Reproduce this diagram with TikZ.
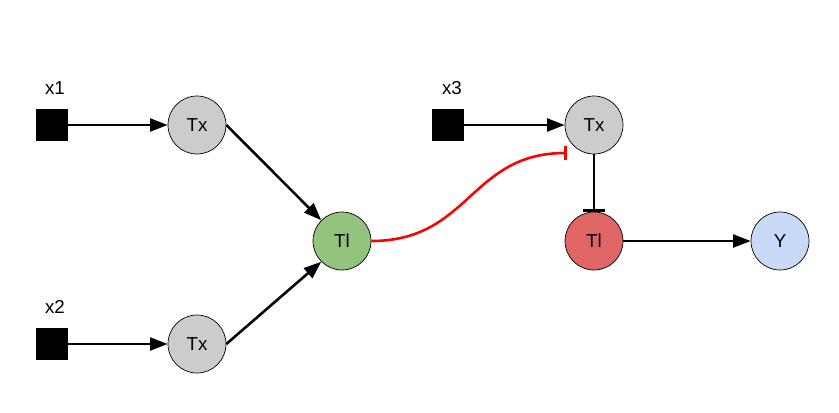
\documentclass[tikz,border=0pt]{standalone}
\usepackage{fontspec}
\setmainfont{Liberation Sans}
\usepackage{xcolor}
\usetikzlibrary{positioning, arrows.meta, calc}

\definecolor{txgray}{HTML}{CCCCCC}
\definecolor{tlgreen}{HTML}{93C47D}
\definecolor{tlred}{HTML}{E06666}
\definecolor{yblue}{HTML}{C9DAF8}

\begin{document}
\begin{tikzpicture}[x=0.03cm, y=-0.03cm, font=\fontsize{16}{18}\selectfont,
  species/.style={circle, draw=black, line width=0.6pt, minimum size=1.74cm, inner sep=0pt},
  inputbox/.style={fill=black, minimum size=0.96cm, inner sep=0pt},
  act/.style={line width=2.2pt, -{Triangle[length=15pt, width=11pt]}},
  inh/.style={line width=2.2pt, -{Bar[width=18pt, line width=2.2pt]}},
  tag/.style={inner sep=0pt}]
\useasboundingbox (0,0) rectangle (839,412);

% inputs
\node[inputbox] (in1) at (52,125) {};
\node[inputbox] (in2) at (52,344) {};
\node[inputbox] (in3) at (448,125) {};
\node[tag] (lab1) at (55,88) {x1};
\node[tag] (lab2) at (55,307) {x2};
\node[tag] (lab3) at (452,88) {x3};

% species
\node[species, fill=txgray] (tx1) at (197,125) {Tx};
\node[species, fill=txgray] (tx2) at (197,344) {Tx};
\node[species, fill=tlgreen] (tl1) at (342,241) {Tl};
\node[species, fill=txgray] (tx3) at (594,125) {Tx};
\node[species, fill=tlred] (tl2) at (594,241) {Tl};
\node[species, fill=yblue] (y) at (780,241) {Y};
\coordinate (blk) at (567,153);

% connectors
\draw[act] (in1) -- (tx1);
\draw[act] (in2) -- (tx2);
\draw[act] (in3) -- (tx3);
\draw[act] (tx1.east) -- (tl1.north west);
\draw[act] (tx2.east) -- (tl1.south west);
\draw[act] (tl2) -- (y);
\draw[inh] (tx3) -- (tl2);
\draw[inh, red, -{Bar[width=12pt, line width=2.2pt]}] (tl1.east) .. controls (470,241) and (470,153) .. (blk);
\end{tikzpicture}
\end{document}
